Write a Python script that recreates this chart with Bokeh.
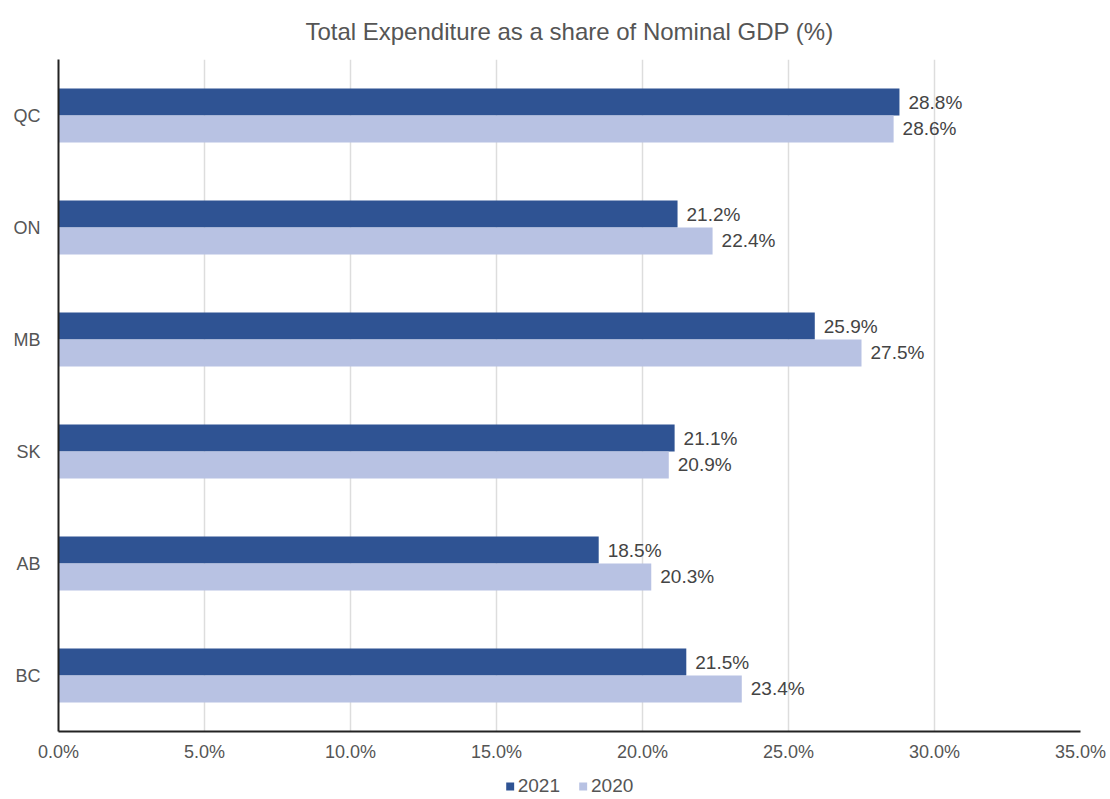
from bokeh.plotting import figure
from bokeh.layouts import column
from bokeh.models import ColumnDataSource, Legend, LegendItem, FactorRange, LabelSet, Range1d
from bokeh.core.properties import value
from bokeh.transform import dodge
from bokeh.embed import file_html
from bokeh.resources import INLINE

provinces = ["BC", "AB", "SK", "MB", "ON", "QC"]
v2021 = [21.5, 18.5, 21.1, 25.9, 21.2, 28.8]
v2020 = [23.4, 20.3, 20.9, 27.5, 22.4, 28.6]
series = ["2021", "2020"]
ticks = [0, 5, 10, 15, 20, 25, 30, 35]

C21 = "#2f5393"
C20 = "#b8c2e3"
FONT = "Liberation Sans"

src = ColumnDataSource(dict(
    prov=provinces, v21=v2021, v20=v2020,
    l21=[f"{v:.1f}%" for v in v2021], l20=[f"{v:.1f}%" for v in v2020],
))

p = figure(width=1110, height=772, y_range=FactorRange(*provinces), x_range=Range1d(0, 35),
           output_backend="svg", toolbar_location=None,
           min_border_left=58, min_border_right=30, min_border_top=59, min_border_bottom=41)

p.title.text = "Total Expenditure as a share of Nominal GDP (%)"
p.title.align = "center"
p.title.text_font = FONT
p.title.text_font_size = "24px"
p.title.text_font_style = "normal"
p.title.text_color = "#555555"
p.title.standoff = 29

r21 = p.hbar(y=dodge("prov", 0.12, range=p.y_range), right="v21", height=0.24, source=src, color=C21, line_color=None)
r20 = p.hbar(y=dodge("prov", -0.12, range=p.y_range), right="v20", height=0.24, source=src, color=C20, line_color=None)

for col, lab, off in [("v21", "l21", 0.12), ("v20", "l20", -0.12)]:
    ls = LabelSet(x=col, y=dodge("prov", off, range=p.y_range), text=lab, source=src, x_offset=9,
                  text_baseline="middle", text_font=value(FONT), text_font_size="19px", text_color="#444444")
    p.add_layout(ls)

p.xaxis.ticker = ticks
p.xaxis.major_label_overrides = {t: f"{t:.1f}%" for t in ticks}
p.xaxis.major_tick_line_color = None
p.xaxis.minor_tick_line_color = None
p.xaxis.axis_line_color = "#222222"
p.xaxis.axis_line_width = 2
p.xaxis.major_label_text_font = FONT
p.xaxis.major_label_text_font_size = "18px"
p.xaxis.major_label_text_color = "#555555"
p.xaxis.major_label_standoff = 4

p.yaxis.major_tick_line_color = None
p.yaxis.minor_tick_line_color = None
p.yaxis.axis_line_color = "#222222"
p.yaxis.axis_line_width = 2
p.yaxis.major_label_text_font = FONT
p.yaxis.major_label_text_font_size = "18px"
p.yaxis.major_label_text_color = "#555555"
p.yaxis.major_label_standoff = 12

p.ygrid.grid_line_color = None
p.xgrid.grid_line_color = "#dddddd"
p.xgrid.grid_line_width = 1.5
p.outline_line_color = None

# legend strip below the chart (swatch renderers sit outside the visible range)
lf = figure(width=1110, height=27, x_range=Range1d(0, 1), y_range=Range1d(0, 1),
            output_backend="svg", toolbar_location=None,
            min_border_left=0, min_border_right=0, min_border_top=0, min_border_bottom=0)
lf.axis.visible = False
lf.grid.visible = False
lf.outline_line_color = None
e = ColumnDataSource(dict(y=[-10], left=[-10], right=[-9]))
g21 = lf.hbar(y="y", left="left", right="right", height=0.1, source=e, color=C21, line_color=None)
g20 = lf.hbar(y="y", left="left", right="right", height=0.1, source=e, color=C20, line_color=None)
legend = Legend(items=[LegendItem(label=series[0], renderers=[g21]), LegendItem(label=series[1], renderers=[g20])],
                orientation="horizontal", location="center", border_line_color=None, background_fill_alpha=0,
                label_text_font=FONT, label_text_font_size="19px", label_text_color="#555555",
                glyph_width=10, glyph_height=10, label_standoff=3, spacing=18, padding=0, margin=0)
lf.add_layout(legend, "center")

layout = column(p, lf, spacing=0)
open("out.html", "w").write(file_html(layout, INLINE))
